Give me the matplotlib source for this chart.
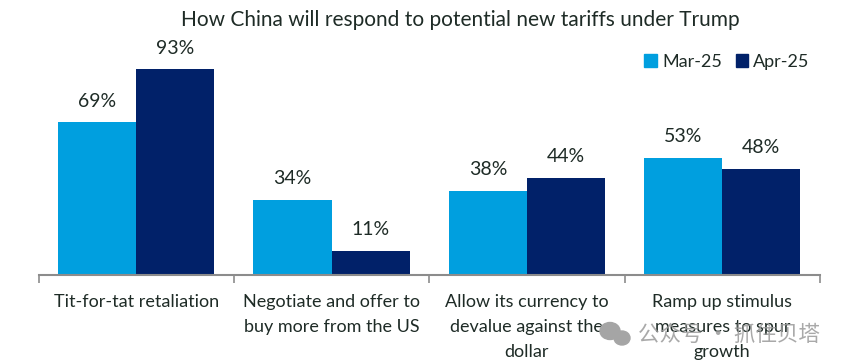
import matplotlib.pyplot as plt
from matplotlib.patches import Patch, Ellipse

categories = ['Tit-for-tat retaliation', 'Negotiate and offer to\nbuy more from the US',
              'Allow its currency to\ndevalue against the\ndollar', 'Ramp up stimulus\nmeasures to spur\ngrowth']
mar25 = [69, 34, 38, 53]
apr25 = [93, 11, 44, 48]
series_names = ['Mar-25', 'Apr-25']
title = 'How China will respond to potential new tariffs under Trump'
watermark = '公众号 · 抓住贝塔'

W, H = 853, 362
plt.rcParams['font.family'] = ['Lato', 'Open Sans', 'DejaVu Sans']
TEXT = '#1e2b26'
LIGHT = '#009fdf'
DARK = '#012169'

fig = plt.figure(figsize=(W / 100, H / 100), dpi=100)
# axes spans exactly the x axis in pixels, zero line at y=275
ax = fig.add_axes([38.5 / W, (H - 275) / H, (820 - 38.5) / W, 275 / H])
ax.set_xlim(0, 4)
ax.set_ylim(0, 275 / 2.215)

x = [i + 0.5 for i in range(4)]
ax.bar([i - 0.2 for i in x], mar25, width=0.4, color=LIGHT)
ax.bar([i + 0.2 for i in x], apr25, width=0.4, color=DARK)

for i in range(4):
    ax.text(x[i] - 0.2, mar25[i] + 5.6, '%d%%' % mar25[i], ha='center', va='bottom', fontsize=14, color=TEXT)
    ax.text(x[i] + 0.2, apr25[i] + 5.6, '%d%%' % apr25[i], ha='center', va='bottom', fontsize=14, color=TEXT)

for s in ['top', 'left', 'right']:
    ax.spines[s].set_visible(False)
ax.spines['bottom'].set_color('#8c8c8c')
ax.spines['bottom'].set_linewidth(1.5)
ax.set_yticks([])
ax.set_xticks(range(5))
ax.set_xticklabels([])
ax.tick_params(axis='x', length=6, width=1.2, color='#8c8c8c')

for i in range(4):
    ax.text(x[i], -8.4, categories[i], ha='center', va='top', fontsize=13, color=TEXT, linespacing=1.7)

fig.text(460 / W, 1 - 20 / H, title, ha='center', va='center', fontsize=15, color=TEXT)

handles = [Patch(color=LIGHT, label=series_names[0]), Patch(color=DARK, label=series_names[1])]
fig.legend(handles=handles, loc='center', bbox_to_anchor=(727 / W, 1 - 62 / H), ncol=2, frameon=False,
           fontsize=13, labelcolor=TEXT, handlelength=0.68, handleheight=0.68, handletextpad=0.3, columnspacing=0.75)

# watermark
fig.text(638 / W, 1 - 335 / H, watermark, ha='left', va='center', fontsize=15.5, color='#9a9a9a', alpha=0.85,
         family=['Noto Sans CJK SC', 'DejaVu Sans'])
fig.add_artist(Ellipse((610 / W, 1 - 331 / H), 20 / W, 17 / H, color='#a5a5a5', transform=fig.transFigure))
fig.add_artist(Ellipse((622 / W, 1 - 338 / H), 16 / W, 14 / H, color='#a5a5a5', transform=fig.transFigure))

fig.savefig('out.png', dpi=100)
